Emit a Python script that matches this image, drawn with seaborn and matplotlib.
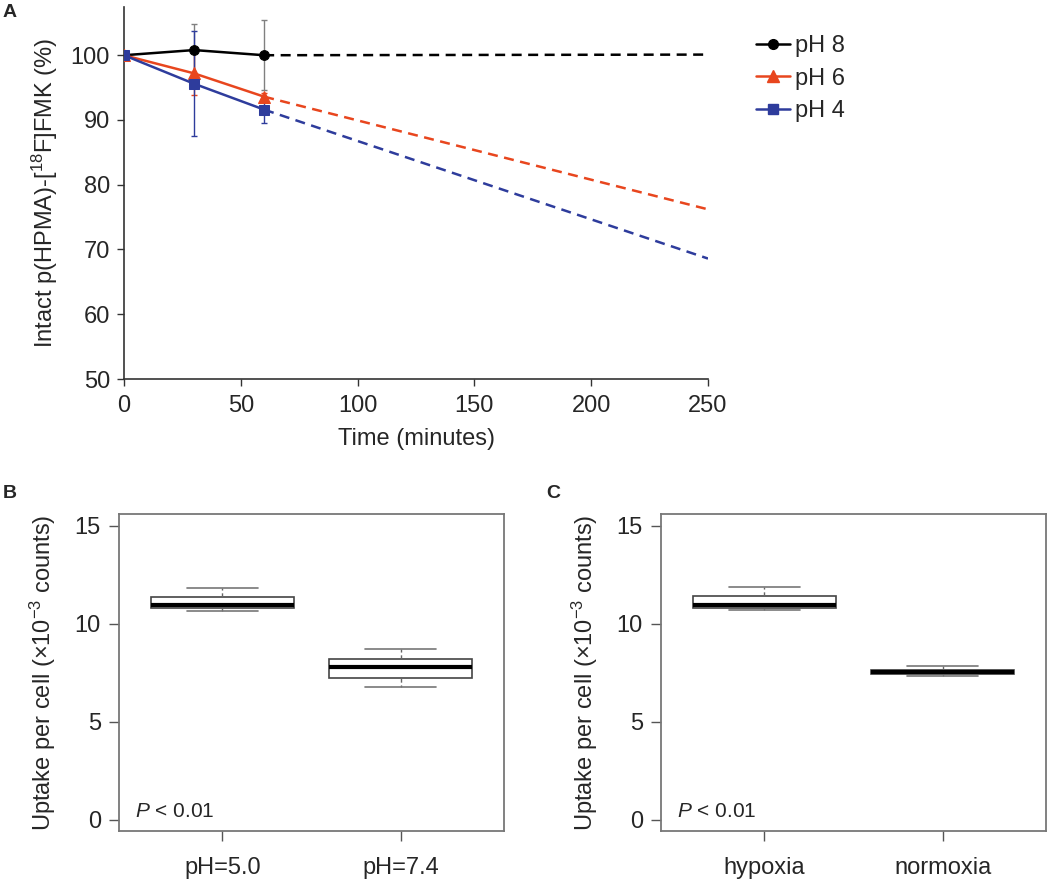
import numpy as np
import pandas as pd
import seaborn as sns
import matplotlib.pyplot as plt
from matplotlib.lines import Line2D

# Panel A: intact tracer (%) over time at three pH values
time_pts = [0, 30, 60]
ph_labels = ['pH 8', 'pH 6', 'pH 4']
intact_ph8 = [100.0, 100.8, 100.0]
intact_ph6 = [100.0, 97.2, 93.6]
intact_ph4 = [100.0, 95.6, 91.6]
err_ph8 = [0, 4.0, 5.4]
err_ph6 = [0, 3.4, 0.6]
err_ph4 = [0, 8.1, 2.0]
# extrapolated trend (dashed part)
trend_time = [60, 250]
trend_ph8 = [100.0, 100.1]
trend_ph6 = [93.6, 76.2]
trend_ph4 = [91.6, 68.6]

# Panels B and C: box summaries (low whisker, q1, median, q3, high whisker)
ph_groups = ['pH=5.0', 'pH=7.4']
box_ph50 = [10.66, 10.82, 10.93, 11.36, 11.84]
box_ph74 = [6.79, 7.24, 7.77, 8.21, 8.69]
oxy_groups = ['hypoxia', 'normoxia']
box_hypoxia = [10.68, 10.82, 10.94, 11.40, 11.87]
box_normoxia = [7.33, 7.45, 7.54, 7.65, 7.83]

colors = ['#000000', '#E8461E', '#2E3C9C']
markers = ['o', '^', 's']
msizes = [7, 8, 7]

sns.set_style('ticks')
plt.rcParams['font.family'] = ['Liberation Sans', 'DejaVu Sans']
plt.rcParams['mathtext.fontset'] = 'custom'
plt.rcParams['mathtext.rm'] = 'Liberation Sans'
plt.rcParams['mathtext.it'] = 'Liberation Sans:italic'
plt.rcParams['font.size'] = 17

fig = plt.figure(figsize=(10.5, 8.81), dpi=100)
W, H = 1050, 881


def px_axes(left, top, right, bottom):
    return fig.add_axes([left / W, 1 - bottom / H, (right - left) / W, (bottom - top) / H])


# ---- panel A ----
axA = px_axes(124, 7, 708, 379)
series = [(intact_ph8, err_ph8, trend_ph8), (intact_ph6, err_ph6, trend_ph6),
          (intact_ph4, err_ph4, trend_ph4)]
for i, (vals, errs, trend) in enumerate(series):
    ecol = '#808080' if i == 0 else colors[i]
    axA.errorbar(time_pts, vals, yerr=errs, fmt='none', ecolor=ecol, elinewidth=1.0,
                 capsize=2.5, capthick=1.0, zorder=2)
for i, (vals, errs, trend) in enumerate(series):
    sns.lineplot(x=trend_time, y=trend, ax=axA, color=colors[i], linewidth=1.8,
                 dashes=False, linestyle=(0, (4, 2.6)), zorder=3)
    sns.lineplot(x=time_pts, y=vals, ax=axA, color=colors[i], linewidth=1.8,
                 marker=markers[i], markersize=msizes[i], markeredgecolor=colors[i],
                 zorder=4)

axA.set_xlim(0, 250)
axA.set_ylim(50, 107.45)
axA.set_xticks([0, 50, 100, 150, 200, 250])
axA.set_yticks([50, 60, 70, 80, 90, 100])
axA.tick_params(axis='both', length=5, width=1.0, color='#333333', labelsize=17)
axA.tick_params(axis='y', pad=5)
axA.tick_params(axis='x', pad=6.5)
for s in ['top', 'right']:
    axA.spines[s].set_visible(False)
for s in ['left', 'bottom']:
    axA.spines[s].set_linewidth(1.2)
    axA.spines[s].set_color('#333333')
axA.set_xlabel('Time (minutes)', labelpad=8)
axA.set_ylabel('Intact p(HPMA)-[$^{18}$F]FMK (%)', labelpad=8)

handles = [Line2D([0], [0], color=colors[i], lw=1.8, marker=markers[i], markersize=msizes[i])
           for i in range(3)]
axA.legend(handles, ph_labels, loc='upper left', bbox_to_anchor=(1.082, 0.925),
           frameon=False, borderpad=0, borderaxespad=0, handlelength=1.45,
           handletextpad=0.2, labelspacing=0.45, fontsize=17)


# ---- panels B and C ----
def draw_box(ax, groups, boxes):
    df = pd.DataFrame({'group': np.repeat(groups, 5), 'value': np.concatenate(boxes)})
    sns.boxplot(data=df, x='group', y='value', ax=ax, width=0.8, whis=(0, 100),
                color='white', linecolor='#444444', linewidth=1.2,
                medianprops=dict(color='black', linewidth=3),
                whiskerprops=dict(color='#666666', linestyle=(0, (3, 2)), linewidth=1.0),
                capprops=dict(color='#777777', linewidth=1.2))
    ax.set_xlim(-0.58, 1.58)
    ax.set_ylim(-0.58, 15.6)
    ax.set_yticks([0, 5, 10, 15])
    ax.set_xlabel('')
    ax.set_ylabel('Uptake per cell (×10$^{-3}$ counts)', labelpad=12)
    for s in ax.spines.values():
        s.set_visible(True)
        s.set_color('#777777')
        s.set_linewidth(1.3)
    ax.tick_params(axis='both', length=7, width=1.0, color='#555555', labelsize=17)
    ax.tick_params(axis='x', pad=12)
    ax.tick_params(axis='y', pad=6)
    ax.text(0.042, 0.062, '$P$ < 0.01', transform=ax.transAxes, fontsize=15,
            ha='left', va='center')


axB = px_axes(119, 514, 504, 831)
draw_box(axB, ph_groups, [box_ph50, box_ph74])
axC = px_axes(661, 514, 1046, 831)
draw_box(axC, oxy_groups, [box_hypoxia, box_normoxia])

fig.text(3 / W, 1 - 4 / H, 'A', fontsize=14, fontweight='bold', ha='left', va='top')
fig.text(3 / W, 1 - 485 / H, 'B', fontsize=14, fontweight='bold', ha='left', va='top')
fig.text(546 / W, 1 - 485 / H, 'C', fontsize=14, fontweight='bold', ha='left', va='top')

fig.savefig('out.png', dpi=100)
